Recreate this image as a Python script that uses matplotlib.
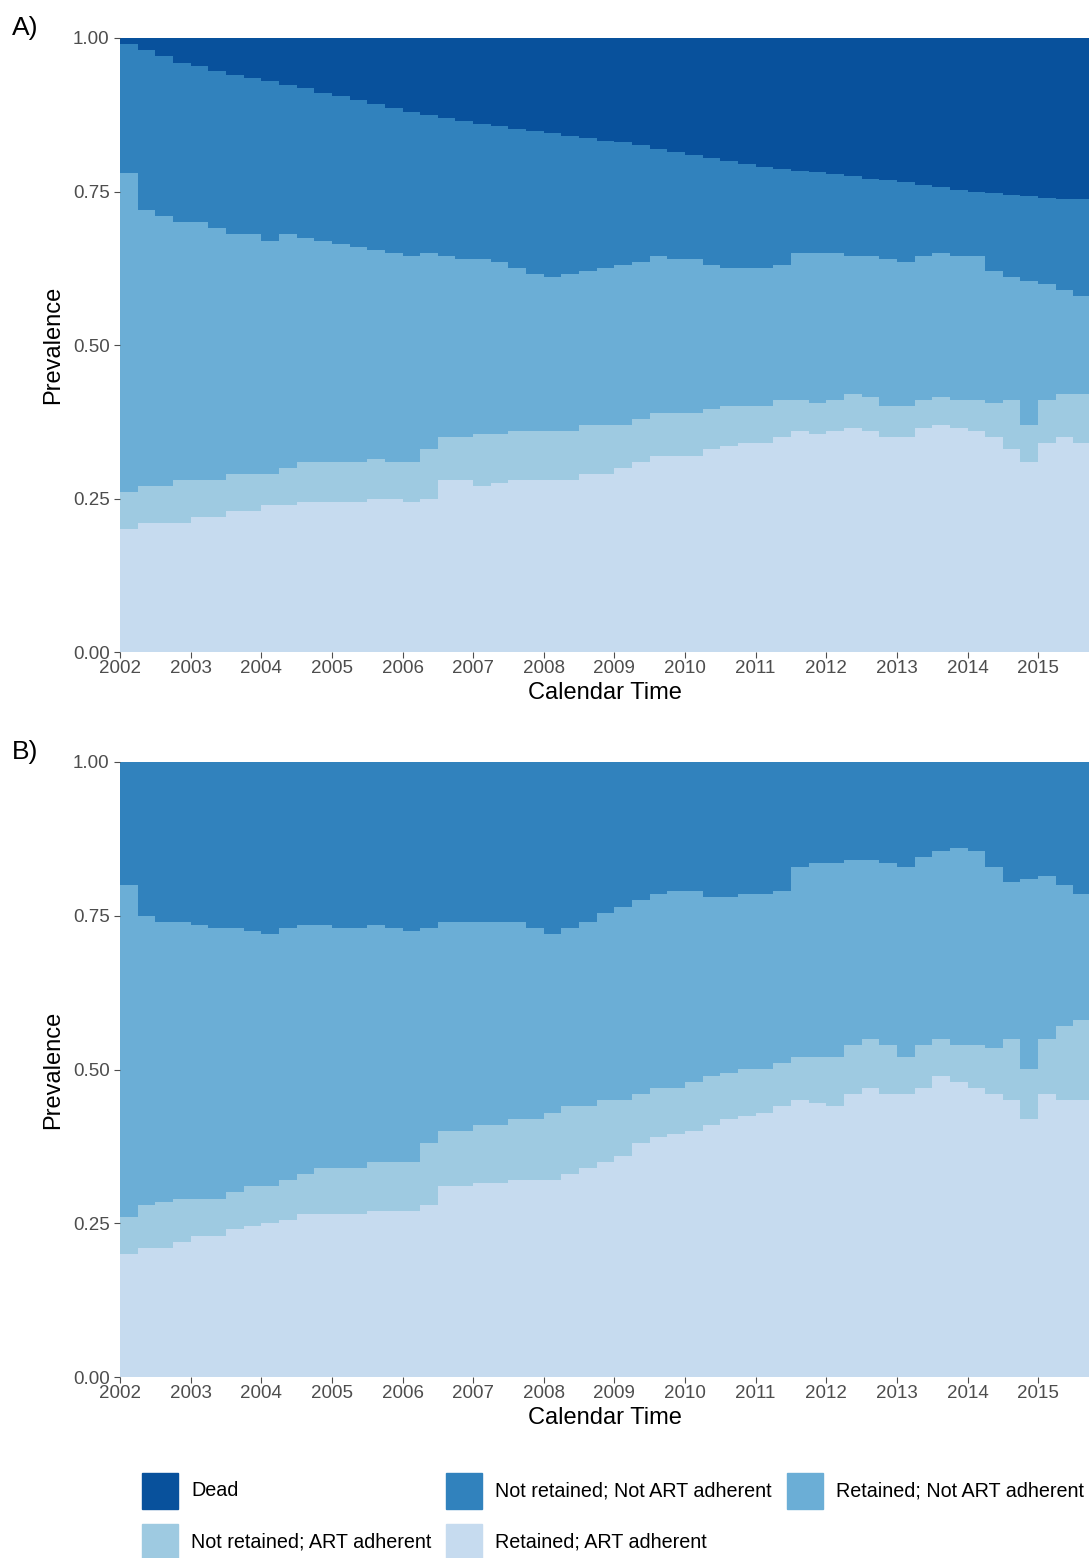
import numpy as np
import matplotlib
matplotlib.use("Agg")
import matplotlib.pyplot as plt

plt.rcParams["font.family"] = ["Liberation Sans", "DejaVu Sans"]

# quarterly time points 2002.00 .. 2015.75
T = np.arange(2002, 2016, 0.25)
X_END = 2015.72

# Panel A: cumulative upper bounds of each layer
a_ra = [0.20,0.21,0.21,0.21, 0.22,0.22,0.23,0.23, 0.24,0.24,0.245,0.245, 0.245,0.245,0.25,0.25,
        0.245,0.25,0.28,0.28, 0.27,0.275,0.28,0.28, 0.28,0.28,0.29,0.29, 0.30,0.31,0.32,0.32,
        0.32,0.33,0.335,0.34, 0.34,0.35,0.36,0.355, 0.36,0.365,0.36,0.35, 0.35,0.365,0.37,0.365,
        0.36,0.35,0.33,0.31, 0.34,0.35,0.34,0.33]
a_nra = [0.26,0.27,0.27,0.28, 0.28,0.28,0.29,0.29, 0.29,0.30,0.31,0.31, 0.31,0.31,0.315,0.31,
         0.31,0.33,0.35,0.35, 0.355,0.355,0.36,0.36, 0.36,0.36,0.37,0.37, 0.37,0.38,0.39,0.39,
         0.39,0.395,0.40,0.40, 0.40,0.41,0.41,0.405, 0.41,0.42,0.415,0.40, 0.40,0.41,0.415,0.41,
         0.41,0.405,0.41,0.37, 0.41,0.42,0.42,0.42]
a_rna = [0.78,0.72,0.71,0.70, 0.70,0.69,0.68,0.68, 0.67,0.68,0.675,0.67, 0.665,0.66,0.655,0.65,
         0.645,0.65,0.645,0.64, 0.64,0.635,0.625,0.615, 0.61,0.615,0.62,0.625, 0.63,0.635,0.645,0.64,
         0.64,0.63,0.625,0.625, 0.625,0.63,0.65,0.65, 0.65,0.645,0.645,0.64, 0.635,0.645,0.65,0.645,
         0.645,0.62,0.61,0.605, 0.60,0.59,0.58,0.565]
a_nrna = [0.99,0.98,0.97,0.96, 0.955,0.947,0.94,0.935, 0.93,0.924,0.918,0.911, 0.905,0.899,0.893,0.886,
          0.88,0.875,0.87,0.865, 0.86,0.856,0.852,0.848, 0.845,0.841,0.837,0.833, 0.83,0.825,0.82,0.815,
          0.81,0.805,0.80,0.795, 0.79,0.787,0.784,0.781, 0.778,0.775,0.771,0.768, 0.765,0.761,0.757,0.753,
          0.75,0.747,0.745,0.742, 0.74,0.738,0.737,0.735]

# Panel B
b_ra = [0.20,0.21,0.21,0.22, 0.23,0.23,0.24,0.245, 0.25,0.255,0.265,0.265, 0.265,0.265,0.27,0.27,
        0.27,0.28,0.31,0.31, 0.315,0.315,0.32,0.32, 0.32,0.33,0.34,0.35, 0.36,0.38,0.39,0.395,
        0.40,0.41,0.42,0.425, 0.43,0.44,0.45,0.445, 0.44,0.46,0.47,0.46, 0.46,0.47,0.49,0.48,
        0.47,0.46,0.45,0.42, 0.46,0.45,0.45,0.43]
b_nra = [0.26,0.28,0.285,0.29, 0.29,0.29,0.30,0.31, 0.31,0.32,0.33,0.34, 0.34,0.34,0.35,0.35,
         0.35,0.38,0.40,0.40, 0.41,0.41,0.42,0.42, 0.43,0.44,0.44,0.45, 0.45,0.46,0.47,0.47,
         0.48,0.49,0.495,0.50, 0.50,0.51,0.52,0.52, 0.52,0.54,0.55,0.54, 0.52,0.54,0.55,0.54,
         0.54,0.535,0.55,0.50, 0.55,0.57,0.58,0.57]
b_rna = [0.80,0.75,0.74,0.74, 0.735,0.73,0.73,0.725, 0.72,0.73,0.735,0.735, 0.73,0.73,0.735,0.73,
         0.725,0.73,0.74,0.74, 0.74,0.74,0.74,0.73, 0.72,0.73,0.74,0.755, 0.765,0.775,0.785,0.79,
         0.79,0.78,0.78,0.785, 0.785,0.79,0.83,0.835, 0.835,0.84,0.84,0.835, 0.83,0.845,0.855,0.86,
         0.855,0.83,0.805,0.81, 0.815,0.80,0.785,0.77]

LABELS = ["Dead", "Not retained; Not ART adherent", "Retained; Not ART adherent",
          "Not retained; ART adherent", "Retained; ART adherent"]
COLORS = ["#08519C", "#3182BD", "#6BAED6", "#9ECAE1", "#C6DBEF"]
YEARS = list(range(2002, 2016))


def stack_plot(ax, bounds):
    # bounds: upper bounds from bottom layer (RA) to top (Dead=1)
    x = np.append(T, X_END)
    lower = np.zeros(len(x))
    cols = COLORS[::-1]
    for ub, c in zip(bounds, cols):
        upper = np.append(ub, ub[-1])
        ax.fill_between(x, lower, upper, step="post", color=c, lw=0)
        lower = upper
    ax.set_xlim(2002, X_END)
    ax.set_ylim(0, 1)
    ax.set_yticks([0, 0.25, 0.5, 0.75, 1.0])
    ax.set_yticklabels(["0.00", "0.25", "0.50", "0.75", "1.00"])
    ax.set_xticks(YEARS)
    for s in ax.spines.values():
        s.set_visible(False)
    ax.tick_params(labelsize=13.5, colors="#4d4d4d", length=4)
    ax.tick_params(axis="x", pad=2)
    ax.set_xlabel("Calendar Time", fontsize=17, labelpad=3)
    ax.set_ylabel("Prevalence", fontsize=17, labelpad=6)


fig = plt.figure(figsize=(10.89, 15.58), dpi=100)
W, H = 1089, 1558
axA = fig.add_axes([120/W, 1-652/H, 969/W, 614/H])
axB = fig.add_axes([120/W, 1-1377/H, 969/W, 615/H])
ones = [1.0]*len(T)
stack_plot(axA, [a_ra, a_nra, a_rna, a_nrna, ones])
stack_plot(axB, [b_ra, b_nra, b_rna, ones, ones])
fig.text(12/W, 1-28/H, "A)", fontsize=19, va="center")
fig.text(12/W, 1-752/H, "B)", fontsize=19, va="center")

pos = [(142, 1491), (446, 1491), (787, 1491), (142, 1542), (446, 1542)]
for (px, py), c, lab in zip(pos, COLORS, LABELS):
    fig.patches.append(plt.Rectangle((px/W, 1-(py+18)/H), 36/W, 36/H, color=c,
                                     transform=fig.transFigure))
    fig.text((px+49)/W, 1-py/H, lab, fontsize=14.2, va="center")

fig.savefig("out.png", dpi=100)
